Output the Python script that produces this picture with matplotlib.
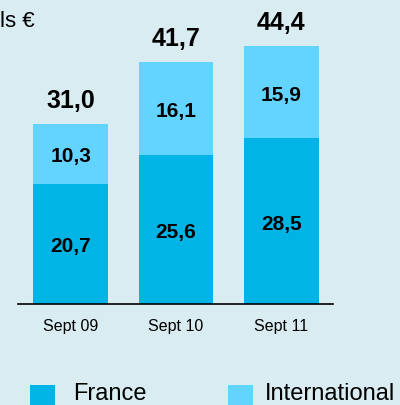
import matplotlib
matplotlib.use("Agg")
import matplotlib.pyplot as plt
from matplotlib.patches import Rectangle

categories = ["Sept 09", "Sept 10", "Sept 11"]
france = [20.7, 25.6, 28.5]
international = [10.3, 16.1, 15.9]
totals = [31.0, 41.7, 44.4]
legend_labels = ["France", "International"]
unit_label = "ls €"

BG = "#d9ecf2"
C_FR = "#00b5e6"
C_INT = "#63d4ff"

plt.rcParams['font.family'] = ['Liberation Sans', 'DejaVu Sans']

fig = plt.figure(figsize=(4.0, 4.06), dpi=100, facecolor=BG)
ax = fig.add_axes([18/400, 101/406, 315/400, 305/406])
ax.set_facecolor(BG)

x = list(range(len(categories)))
w = 0.71
ax.bar(x, france, width=w, color=C_FR, edgecolor='none')
ax.bar(x, international, width=w, bottom=france, color=C_INT, edgecolor='none')

def fmt(v):
    return f"{v:.1f}".replace(".", ",")

px = 52.5 / 305.0
for i in x:
    f, it, t = france[i], international[i], totals[i]
    ax.text(i, f/2 - 7.5*px, fmt(f), ha='center', va='baseline',
            fontsize=15, fontweight='bold', color='black')
    ax.text(i, f + it/2 - 7.5*px, fmt(it), ha='center', va='baseline',
            fontsize=15, fontweight='bold', color='black')
    ax.text(i, t + 17*px, fmt(t), ha='center', va='baseline',
            fontsize=18, fontweight='bold', color='black')

ax.set_xlim(-0.5, 2.49)
ax.set_ylim(0, 52.5)
ax.set_xticks(x)
ax.set_xticklabels(categories, fontsize=11.5)
ax.tick_params(axis='x', length=0, pad=10)
ax.set_yticks([])
for s in ['top', 'right', 'left']:
    ax.spines[s].set_visible(False)
ax.spines['bottom'].set_linewidth(1.2)
ax.spines['bottom'].set_color('black')

fig.text(0/400, 1 - 27/406, unit_label, fontsize=16, ha='left', va='baseline')

# legend
for (lx, tx, c, lab) in [(30, 73, C_FR, legend_labels[0]), (228, 265, C_INT, legend_labels[1])]:
    fig.patches.append(Rectangle((lx/400, 0), 25/400, 20/406, transform=fig.transFigure,
                                 facecolor=c, edgecolor='none'))
    fig.text(tx/400, 0.5/406, lab, fontsize=17, ha='left', va='bottom')

fig.savefig("out.png", dpi=100, facecolor=BG)
